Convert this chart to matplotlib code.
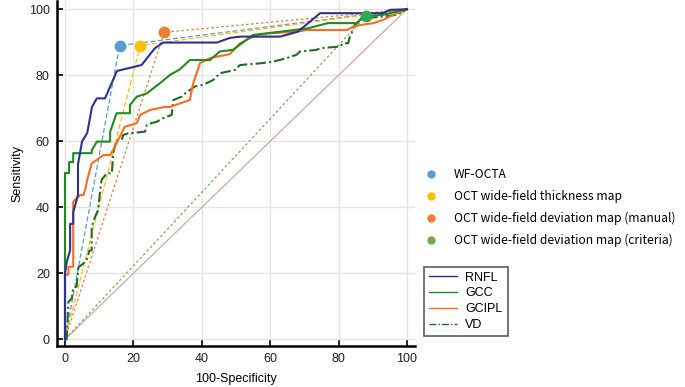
import matplotlib
matplotlib.use("Agg")
import matplotlib.pyplot as plt
from matplotlib.lines import Line2D

plt.rcParams['font.family'] = ['Liberation Sans', 'DejaVu Sans']

# ROC curves (100-specificity, sensitivity)
rnfl_x = [0, 0, 0.5, 1.5, 1.5, 2.4, 2.4, 3.8, 3.8, 5.0, 6.5, 7.9, 9.3, 11.7, 15.2, 22.4, 26.3, 28.7,
          44.4, 48.2, 51.2, 62.9, 68.1, 74.6, 93.0, 95.0, 100]
rnfl_y = [0, 20, 23.4, 27, 35, 35, 38.5, 43.7, 53, 60, 62.5, 70.4, 73, 73, 81.3, 83.1, 88.2, 89.9,
          89.9, 91.3, 91.7, 91.7, 93.2, 98.8, 98.8, 99.8, 100]

gcc_x = [0, 0, 1.2, 1.2, 2.4, 2.4, 7.8, 7.8, 9.3, 13.2, 13.2, 15.1, 19.0, 19.0, 21.0, 23.9, 27.8,
         30.7, 33.6, 36.5, 42.4, 45.3, 49.1, 55.0, 71.0, 76.9, 85.4, 87.1, 93.0, 100]
gcc_y = [0, 50.4, 50.4, 53.7, 53.7, 56.4, 56.4, 57.2, 59.9, 59.9, 62.9, 68.5, 68.5, 71.0, 73.5, 74.5,
         77.6, 80.1, 81.8, 84.6, 84.6, 87.2, 87.7, 92.2, 94.2, 95.8, 95.8, 97.8, 98.3, 100]

gcipl_x = [0, 0, 1.0, 1.0, 2.4, 2.4, 4.4, 5.4, 6.1, 6.5, 7.8, 11.2, 13.2, 14.1, 17.5, 19.5, 21.0, 22.0,
           24.9, 29.2, 30.7, 36.5, 37.5, 39.5, 42.4, 48.2, 51.2, 53.1, 56.0, 60.0, 67.7, 70.6, 82.4,
           84.3, 86.3, 90.2, 93.1, 96.0, 100]
gcipl_y = [0, 19.6, 19.6, 22.0, 22.0, 41.7, 43.7, 43.7, 46.2, 48.3, 53.3, 55.8, 55.8, 57.4, 64.4, 65.0,
           65.5, 68.0, 69.5, 70.4, 70.4, 72.5, 77.6, 83.7, 85.2, 86.4, 89.7, 90.7, 92.2, 92.7, 93.2,
           93.7, 93.7, 94.7, 95.2, 95.8, 96.8, 98.3, 100]

vd_x = [0, 0.5, 1.0, 2.0, 2.4, 3.4, 3.9, 5.4, 6.5, 7.1, 7.8, 7.8, 8.8, 9.7, 10.2, 10.7, 12.2, 13.7,
        14.1, 15.1, 16.6, 17.0, 18.5, 23.4, 23.9, 25.3, 26.8, 28.7, 31.2, 31.7, 34.1, 35.1, 36.5,
        38.0, 40.4, 43.4, 45.3, 49.7, 51.2, 57.0, 60.9, 64.8, 67.7, 68.7, 73.6, 74.6, 80.4, 81.4,
        82.8, 83.3, 83.8, 84.3, 85.4, 86.3, 88.2, 93.1, 97.0, 98.9, 100]
vd_y = [0, 0, 11.4, 12.4, 15.5, 16.0, 21.8, 23.0, 24.5, 26.8, 27.0, 34.1, 37.1, 39.2, 44.2, 48.3, 50.3,
        50.3, 56.4, 60.4, 60.4, 61.9, 62.4, 62.9, 64.9, 65.5, 65.9, 67.0, 68.0, 72.5, 73.5, 74.5,
        75.5, 76.6, 77.1, 78.6, 80.6, 81.6, 83.1, 83.6, 84.1, 85.2, 86.2, 87.2, 87.7, 88.2, 88.7,
        89.7, 89.7, 91.7, 92.7, 94.7, 95.8, 96.8, 97.3, 97.8, 98.3, 99.3, 100]

# single operating points of the map-based tests
pt_labels = ['WF-OCTA', 'OCT wide-field thickness map', 'OCT wide-field deviation map (manual)',
             'OCT wide-field deviation map (criteria)']
pt_x = [16, 22, 29, 88]
pt_y = [89, 89, 93, 98]
pt_colors = ['#5B9BD5', '#FFC000', '#ED7D31', '#70AD47']
pt_marker_colors = ['#5B9BD5', '#FFC000', '#ED7D31', '#2FA84F']
pt_dashes = [(4, 2), (4, 2), (2, 2), (2, 2)]

ticks = [0, 20, 40, 60, 80, 100]

fig = plt.figure(figsize=(6.85, 3.87), dpi=100)
ax = fig.add_axes([0.0829, 0.106, 0.5232, 0.8915])

ax.plot([0, 100], [0, 100], color='#d9a3a3', lw=0.9, zorder=1)
for x, y, c, mc, d in zip(pt_x, pt_y, pt_colors, pt_marker_colors, pt_dashes):
    ax.plot([0, x, 100], [0, y, 100], color=c, lw=0.9, dashes=d, zorder=2)

ax.plot(vd_x, vd_y, color='#1f6e1f', lw=1.5, linestyle=(0, (5, 1.5, 1, 1.5)), zorder=3, label='VD')
ax.plot(gcipl_x, gcipl_y, color='#FF6A1F', lw=1.5, zorder=4, label='GCIPL')
ax.plot(gcc_x, gcc_y, color='#1E8C1E', lw=1.5, zorder=5, label='GCC')
ax.plot(rnfl_x, rnfl_y, color='#2E3192', lw=1.5, zorder=6, label='RNFL')

for x, y, mc in zip(pt_x, pt_y, pt_marker_colors):
    ax.plot(x, y, 'o', color=mc, ms=7.5, zorder=7)

ax.set_xlim(-2.4, 102.4)
ax.set_ylim(-2, 102.5)
ax.set_xticks(ticks)
ax.set_yticks(ticks)
ax.grid(True, color='#e3e3e3', lw=1)
ax.set_axisbelow(True)
for s in ['top', 'right']:
    ax.spines[s].set_visible(False)
for s in ['left', 'bottom']:
    ax.spines[s].set_linewidth(1.8)
ax.tick_params(direction='in', length=4, width=1.4, labelsize=9, pad=5, colors='#222222')
ax.set_xlabel('100-Specificity', fontsize=9, labelpad=6)
ax.set_ylabel('Sensitivity', fontsize=9, labelpad=4)

# legend for operating points
pt_handles = [Line2D([], [], marker='o', ls='none', color=c, ms=5) for c in pt_colors]
fig.legend(pt_handles, pt_labels, loc='upper left', bbox_to_anchor=(0.596, 0.594),
           frameon=False, handletextpad=0.9, labelspacing=0.74,
           prop={'family': ['Noto Sans CJK KR', 'DejaVu Sans'], 'size': 8.7})

# legend for ROC curves
line_handles = [
    Line2D([], [], color='#2E3192', lw=1),
    Line2D([], [], color='#1E8C1E', lw=1),
    Line2D([], [], color='#FF6A1F', lw=1),
    Line2D([], [], color='#1f6e1f', lw=1, linestyle=(0, (5, 1.5, 1, 1.5))),
]
leg = fig.legend(line_handles, ['RNFL', 'GCC', 'GCIPL', 'VD'], loc='upper left',
                 bbox_to_anchor=(0.610, 0.327), fontsize=9, frameon=True, fancybox=False,
                 handlelength=2.2, handletextpad=0.7, labelspacing=0.3, borderpad=0.4)
leg.get_frame().set_edgecolor('#333333')
leg.get_frame().set_linewidth(1.2)

fig.savefig('out.png', dpi=100)
